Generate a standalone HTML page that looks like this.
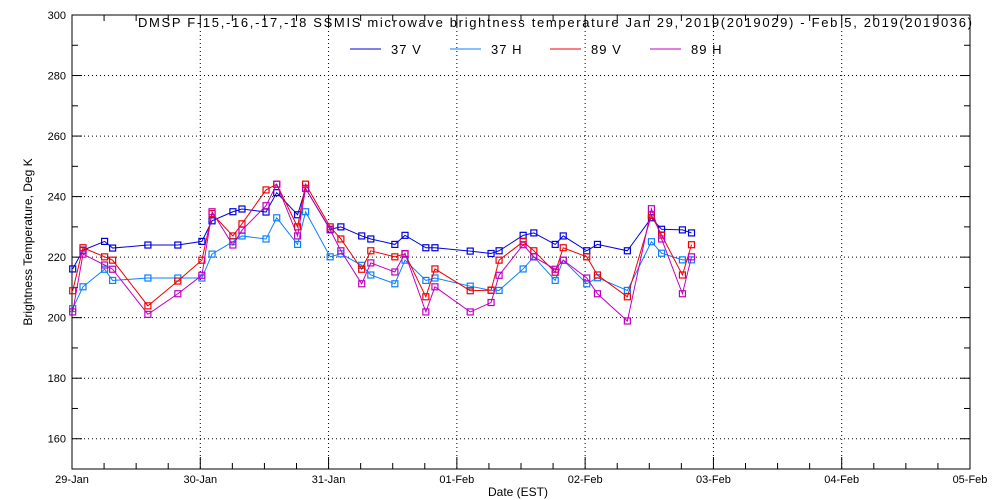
<!DOCTYPE html>
<html><head><meta charset="utf-8"><style>
body{margin:0;background:#fff}
svg{display:block;font-family:"Liberation Sans",sans-serif}
</style></head><body>
<svg id="chart" width="1000" height="500" xmlns="http://www.w3.org/2000/svg">
<rect width="1000" height="500" fill="#fff"/>
<text x="138" y="27" font-size="13" textLength="834" lengthAdjust="spacing">DMSP F-15,-16,-17,-18 SSMIS microwave brightness temperature Jan 29, 2019(2019029) - Feb  5, 2019(2019036)</text>
<g id="legend"></g>
<g id="grid"></g>
<g id="axes"></g>
<g id="series"></g>
<text transform="translate(32,242) rotate(-90)" font-size="12" text-anchor="middle">Brightness Temperature, Deg K</text>
<text x="518" y="496" font-size="12" text-anchor="middle">Date (EST)</text>
</svg>
<script>
const hours=[0.13,2.06,6.1,7.6,14.2,19.8,24.3,26.2,30.1,31.8,36.3,38.3,42.2,43.7,48.3,50.3,54.2,55.9,60.4,62.3,66.2,67.9,74.5,78.4,79.9,84.4,86.4,90.4,91.9,96.3,98.3,103.9,108.4,110.3,114.2,115.9];
const v37V=[216.1,222.3,225.2,223.0,224.0,224.0,225.2,232.0,235.0,235.9,234.9,241.3,234.0,242.7,229.2,230.0,227.0,226.0,224.2,227.2,223.1,223.1,222.0,221.2,222.1,227.2,228.0,224.2,227.0,222.1,224.2,222.1,233.0,229.2,229.0,228.0];
const v37H=[203.0,210.2,216.0,212.3,213.1,213.1,213.1,221.0,225.1,227.0,226.0,233.0,224.2,235.0,220.1,221.1,217.3,214.1,211.2,219.0,212.3,213.1,210.4,209.0,209.0,216.1,220.1,212.3,219.0,211.2,213.2,209.0,225.1,221.3,219.1,219.1];
const v89V=[208.9,223.1,220.1,219.0,203.9,212.1,219.0,234.4,227.0,231.0,242.2,244.1,230.0,244.1,230.0,226.0,216.0,222.1,220.1,221.1,206.9,216.1,208.9,209.1,219.0,225.1,222.1,215.0,223.1,220.1,214.1,206.9,233.9,227.3,214.1,224.1];
const v89H=[201.9,221.0,217.4,216.0,201.1,207.9,214.0,235.0,224.0,228.9,237.0,244.1,227.0,242.7,229.0,222.1,211.2,218.1,215.1,221.2,201.9,210.2,201.9,205.0,214.0,224.1,220.1,216.0,219.0,213.1,207.9,198.9,236.0,226.0,207.9,220.1];
const yTicks=[160,180,200,220,240,260,280,300];
const dayLabels=["29-Jan","30-Jan","31-Jan","01-Feb","02-Feb","03-Feb","04-Feb","05-Feb"];
const seriesNames=["37 V","37 H","89 V","89 H"];
const seriesColors=["#0000e0","#0a80ff","#f00000","#c000c0"];

const NS="http://www.w3.org/2000/svg";
const X0=72,X1=970,Y0=469,Y1=15,YMIN=150,YMAX=300,HMAX=168;
const xs=h=>X0+(h/HMAX)*(X1-X0);
const ys=v=>Y0-(v-YMIN)/(YMAX-YMIN)*(Y0-Y1);
function mk(tag,attrs,parent){const e=document.createElementNS(NS,tag);for(const k in attrs)e.setAttribute(k,attrs[k]);parent.appendChild(e);return e;}
const grid=document.getElementById('grid'),axes=document.getElementById('axes'),ser=document.getElementById('series'),leg=document.getElementById('legend');
yTicks.forEach(v=>{
  if(v<YMAX){const g=mk('line',{x1:X0,x2:X1,y1:ys(v),y2:ys(v),stroke:'#000','stroke-width':1,'stroke-dasharray':'1,3'},grid);
  
  }
  const t=mk('text',{x:X0-6,y:ys(v)+4,'font-size':11,'text-anchor':'end'},axes);t.textContent=v;
  
  
});
for(let v=YMIN;v<=YMAX;v+=10){mk('line',{x1:X0,x2:X0+(v%20==0?10:6),y1:ys(v),y2:ys(v),stroke:'#000'},axes);mk('line',{x1:X1,x2:X1-(v%20==0?10:6),y1:ys(v),y2:ys(v),stroke:'#000'},axes);}
dayLabels.forEach((d,i)=>{
  const x=xs(i*24);
  if(i>0&&i<7){const g=mk('line',{x1:x,x2:x,y1:Y1,y2:Y0,stroke:'#000','stroke-dasharray':'1,3'},grid);
  
  }
  const t=mk('text',{x:x,y:Y0+14,'font-size':11,'text-anchor':'middle'},axes);t.textContent=d;
  
  
});
for(let h=0;h<=HMAX;h+=6){const x=xs(h);const L=h%24==0?12:6;mk('line',{x1:x,x2:x,y1:Y0,y2:Y0-L,stroke:'#000'},axes);mk('line',{x1:x,x2:x,y1:Y1,y2:Y1+L,stroke:'#000'},axes);}
mk('rect',{x:X0,y:Y1,width:X1-X0,height:Y0-Y1,fill:'none',stroke:'#000'},axes);
const data=[v37V,v37H,v89V,v89H];
data.forEach((arr,si)=>{
  const c=seriesColors[si];
  const pl=mk('polyline',{points:arr.map((v,i)=>xs(hours[i])+','+ys(v)).join(' '),fill:'none',stroke:c,'stroke-width':1},ser);
  
  
  arr.forEach((v,i)=>{
    const r=mk('rect',{x:xs(hours[i])-3,y:ys(v)-3,width:6,height:6,fill:'none',stroke:c,'stroke-width':1.2},ser);
    
    
  });
  const lx=350+si*100;
  const ll=mk('line',{x1:lx,x2:lx+31,y1:49,y2:49,stroke:c},leg);
  
  
  const lt=mk('text',{x:lx+41,y:54,'font-size':13,'letter-spacing':'1'},leg);lt.textContent=seriesNames[si];
  
  
});
</script>
</body></html>
